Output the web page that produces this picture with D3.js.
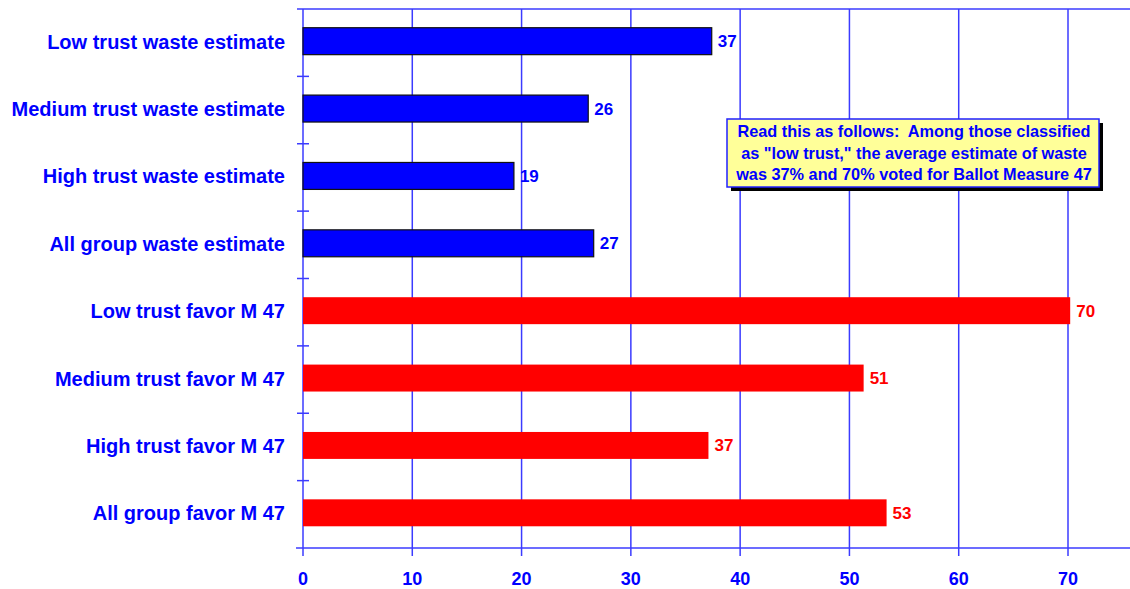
<!DOCTYPE html>
<html>
<head>
<meta charset="utf-8">
<script src="https://cdn.jsdelivr.net/npm/d3@7"></script>
<style>
  html, body { margin: 0; padding: 0; background: #fff; }
  svg { display: block; font-family: Arial, "Liberation Sans", sans-serif; font-weight: bold; }
</style>
</head>
<body>
<div id="chart"></div>
<script>
// categories top to bottom
const categories = [
  "Low trust waste estimate",
  "Medium trust waste estimate",
  "High trust waste estimate",
  "All group waste estimate",
  "Low trust favor M 47",
  "Medium trust favor M 47",
  "High trust favor M 47",
  "All group favor M 47"
];
const values = [37.4, 26.1, 19.3, 26.6, 70.2, 51.3, 37.1, 53.4];
const groups = ["waste", "waste", "waste", "waste", "favor", "favor", "favor", "favor"];
const xTicks = [0, 10, 20, 30, 40, 50, 60, 70];
const noteLines = [
  "Read this as follows:  Among those classified",
  "as \"low trust,\" the average estimate of waste",
  "was 37% and 70% voted for Ballot Measure 47"
];

const W = 1130, H = 589;
const plotL = 303, plotT = 9, plotB = 548, plotR = 1130;
const BLUE = "#0000ff", RED = "#ff0000", GRID = "#3b3bff";

const x = d3.scaleLinear().domain([0, 70]).range([plotL, 1068]);
const y = d3.scaleBand().domain(categories).range([plotT, plotB])
  .paddingInner(0.6).paddingOuter(0.3);
const step = y.step();

const svg = d3.select("#chart").append("svg")
  .attr("width", W)
  .attr("height", H);

// vertical grid lines
svg.append("g")
  .selectAll("line")
  .data(xTicks)
  .join("line")
  .attr("x1", d => x(d)).attr("x2", d => x(d))
  .attr("y1", plotT).attr("y2", plotB + 8)
  .attr("stroke", GRID)
  .attr("stroke-width", 1.5);

// top frame line and bottom axis line
svg.append("line")
  .attr("x1", plotL - 6).attr("x2", plotR)
  .attr("y1", plotT).attr("y2", plotT)
  .attr("stroke", GRID).attr("stroke-width", 1.5);
svg.append("line")
  .attr("x1", plotL - 7).attr("x2", plotR)
  .attr("y1", plotB).attr("y2", plotB)
  .attr("stroke", GRID).attr("stroke-width", 1.5);

// y tick marks between categories
svg.append("g")
  .selectAll("line")
  .data(d3.range(1, categories.length))
  .join("line")
  .attr("x1", plotL - 6).attr("x2", plotL + 6)
  .attr("y1", i => plotT + i * step).attr("y2", i => plotT + i * step)
  .attr("stroke", GRID).attr("stroke-width", 1.5);

// x tick labels
svg.append("g")
  .selectAll("text")
  .data(xTicks)
  .join("text")
  .attr("x", d => x(d))
  .attr("y", 585)
  .attr("text-anchor", "middle")
  .attr("fill", BLUE)
  .attr("font-size", 18)
  .text(d => d);

// category labels
svg.append("g")
  .selectAll("text")
  .data(categories)
  .join("text")
  .attr("x", 285)
  .attr("y", d => y(d) + y.bandwidth() / 2 - 1)
  .attr("dy", "0.35em")
  .attr("text-anchor", "end")
  .attr("fill", BLUE)
  .attr("font-size", 20)
  .text(d => d);

// bars
svg.append("g")
  .selectAll("rect")
  .data(categories)
  .join("rect")
  .attr("x", x(0))
  .attr("y", d => y(d) - 1.5)
  .attr("width", (d, i) => x(values[i]) - x(0))
  .attr("height", y.bandwidth())
  .attr("fill", (d, i) => groups[i] === "waste" ? BLUE : RED)
  .attr("stroke", (d, i) => groups[i] === "waste" ? "#111" : "none")
  .attr("stroke-width", 1.2);

// value labels
svg.append("g")
  .selectAll("text")
  .data(categories)
  .join("text")
  .attr("x", (d, i) => x(values[i]) + 6)
  .attr("y", d => y(d) + y.bandwidth() / 2 - 1.5)
  .attr("dy", "0.35em")
  .attr("fill", (d, i) => groups[i] === "waste" ? BLUE : RED)
  .attr("font-size", 17)
  .text((d, i) => Math.round(values[i]));

// annotation box with drop shadow
const bx = 727, by = 119, bw = 372, bh = 68;
svg.append("rect")
  .attr("x", bx + 4).attr("y", by + 4)
  .attr("width", bw).attr("height", bh)
  .attr("fill", "#000");
svg.append("rect")
  .attr("x", bx).attr("y", by)
  .attr("width", bw).attr("height", bh)
  .attr("fill", "#ffff99")
  .attr("stroke", "#2020ff")
  .attr("stroke-width", 1.5);
svg.append("g")
  .selectAll("text")
  .data(noteLines)
  .join("text")
  .attr("x", bx + bw / 2 + 1)
  .attr("y", (d, i) => by + 18 + i * 21.5)
  .attr("text-anchor", "middle")
  .attr("fill", BLUE)
  .attr("font-size", 16.3)
  .style("white-space", "pre")
  .text(d => d);
</script>
</body>
</html>
